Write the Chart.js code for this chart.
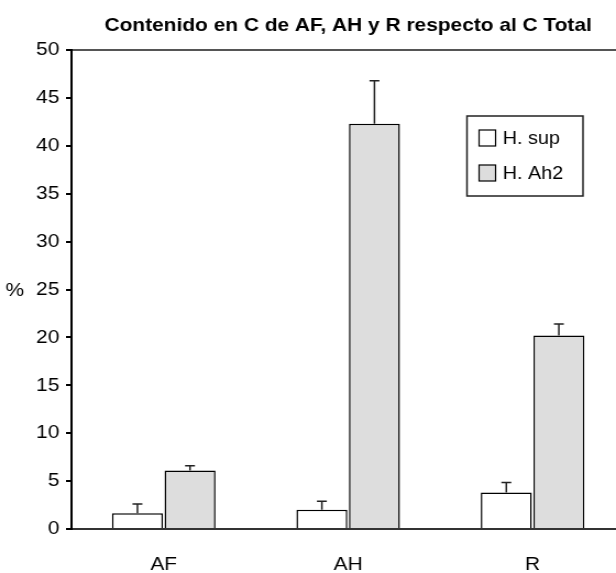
<!DOCTYPE html>
<html>
<head>
<meta charset="utf-8">
<script src="https://cdn.jsdelivr.net/npm/chart.js@4"></script>
<style>
  html, body { margin: 0; padding: 0; background: #fff; overflow: hidden; }
  /* the reference is stretched sideways a bit, so is this */
  #myChart { transform: scaleX(1.1); transform-origin: 0 0; display: block; }
</style>
</head>
<body>
<canvas id="myChart" width="568" height="573"></canvas>
<script>
const categories = ["AF", "AH", "R"]
const sup_values = [1.65, 2.0, 3.8]
const sup_errors = [0.95, 0.9, 1.05]
const ah2_values = [6.1, 42.3, 20.2]
const ah2_errors = [0.5, 4.5, 1.2]
const y_ticks = [0, 5, 10, 15, 20, 25, 30, 35, 40, 45, 50]

const chartTitle = "Contenido en C de AF, AH y R respecto al C Total"
const font = "'Liberation Sans', Arial, sans-serif"

// upward error bars with a cap, drawn off the bar scales
let errorBars = {
  id: 'errorBars',
  afterDatasetsDraw(chart) {
    const ctx = chart.ctx
    const y = chart.scales.y
    chart.data.datasets.forEach((ds, i) => {
      const meta = chart.getDatasetMeta(i)
      meta.data.forEach((bar, j) => {
        const top = y.getPixelForValue(ds.data[j])
        const end = y.getPixelForValue(ds.data[j] + ds.errors[j])
        ctx.save()
        ctx.strokeStyle = '#222'
        ctx.lineWidth = 1.5
        ctx.beginPath()
        ctx.moveTo(bar.x, top)
        ctx.lineTo(bar.x, end)
        ctx.moveTo(bar.x - 4.5, end)
        ctx.lineTo(bar.x + 4.5, end)
        ctx.stroke()
        ctx.restore()
      })
    })
  }
}

// title, "%" label and the boxed legend
let extras = {
  id: 'extras',
  afterDraw(chart) {
    const ctx = chart.ctx
    const area = chart.chartArea
    ctx.save()
    ctx.fillStyle = '#000'
    ctx.font = "bold 19px " + font
    ctx.textAlign = 'center'
    ctx.textBaseline = 'middle'
    ctx.fillText(chartTitle, (area.left + area.right) / 2, 26)

    ctx.font = "19px " + font
    ctx.textAlign = 'left'
    ctx.fillText("%", 5, chart.scales.y.getPixelForValue(25) + 1)

    // legend box
    ctx.strokeStyle = '#222'
    ctx.lineWidth = 1.5
    ctx.strokeRect(424.5, 116, 105.5, 80)
    ctx.font = "18px " + font
    chart.data.datasets.forEach((ds, i) => {
      const cy = 138 + i * 35
      ctx.fillStyle = ds.backgroundColor
      ctx.fillRect(435.5, cy - 8, 15, 16)
      ctx.strokeStyle = '#000'
      ctx.lineWidth = 1.2
      ctx.strokeRect(435.5, cy - 8, 15, 16)
      ctx.fillStyle = '#000'
      ctx.fillText(ds.label, 457, cy + 1)
    })
    ctx.restore()
  }
}

let ctx = document.getElementById("myChart")
let myChart = new Chart(ctx, {
  type: 'bar',
  data: {
    labels: categories,
    datasets: [{
      label: "H. sup",
      data: sup_values,
      errors: sup_errors,
      backgroundColor: '#ffffff',
      borderColor: '#000',
      borderWidth: 1.5
    }, {
      label: "H. Ah2",
      data: ah2_values,
      errors: ah2_errors,
      backgroundColor: '#dddddd',
      borderColor: '#000',
      borderWidth: 1.5
    }]
  },
  options: {
    responsive: false,
    animation: false,
    layout: { padding: { top: 50, right: 0, bottom: 0, left: 0 } },
    categoryPercentage: 0.57,
    barPercentage: 0.97,
    plugins: {
      legend: { display: false },
      title: { display: false },
      tooltip: { enabled: false }
    },
    scales: {
      x: {
        afterFit: axis => { axis.height = 44 },
        grid: { display: false },
        border: { color: '#333', width: 2 },
        ticks: { color: '#000', font: { family: font, size: 19 }, padding: 16 }
      },
      y: {
        min: 0,
        max: 50,
        afterBuildTicks: axis => { axis.ticks = y_ticks.map(v => ({ value: v })) },
        afterFit: axis => { axis.width = 65 },
        grid: {
          color: c => c.tick && c.tick.value === 50 ? '#555' : 'transparent',
          lineWidth: 2,
          tickColor: '#000',
          tickLength: 5
        },
        border: { color: '#000', width: 2 },
        ticks: { color: '#000', font: { family: font, size: 19 }, padding: 6 }
      }
    }
  },
  plugins: [errorBars, extras]
})
</script>
</body>
</html>
